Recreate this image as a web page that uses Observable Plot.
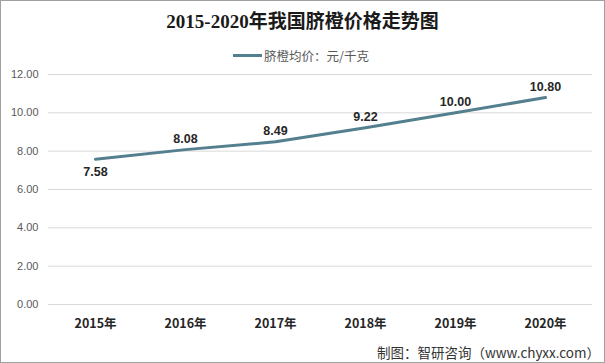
<!DOCTYPE html>
<html>
<head>
<meta charset="utf-8">
<script src="https://cdn.jsdelivr.net/npm/d3@7"></script>
<script src="https://cdn.jsdelivr.net/npm/@observablehq/plot@0.6"></script>
<style>
  html, body { margin: 0; padding: 0; background: #fff; }
  #wrap { position: relative; width: 605px; height: 363px; overflow: hidden; background: #fff; }
  #frame { position: absolute; left: 0; top: 0; width: 605px; height: 363px; box-sizing: border-box; border: 1px solid #a0a0a0; pointer-events: none; }
  #title { position: absolute; left: 0; width: 605px; top: 9px; text-align: center; font-family: "Liberation Serif", "Noto Sans CJK SC", serif; font-weight: bold; font-size: 19px; color: #1a1a1a; line-height: 26px; }
  #legend { position: absolute; left: 233px; top: 46px; height: 18px; display: flex; align-items: center; font-family: "Noto Sans CJK SC", sans-serif; font-size: 12.5px; color: #595959; }
  #legend .sw { width: 29px; height: 3px; background: #537f8e; margin-right: 2px; }
  #caption { position: absolute; right: 5px; top: 342px; font-family: "Noto Sans CJK SC", sans-serif; font-size: 13.5px; color: #333; line-height: 20px; }
  #chart { position: absolute; left: 0; top: 0; }
</style>
</head>
<body>
<div id="wrap">
  <div id="chart"></div>
  <div id="title">2015-2020年我国脐橙价格走势图</div>
  <div id="legend"><div class="sw"></div><span id="legendText"></span></div>
  <div id="caption">制图：智研咨询（www.chyxx.com）</div>
  <div id="frame"></div>
</div>
<script>
const years = ["2015年", "2016年", "2017年", "2018年", "2019年", "2020年"];
const prices = [7.58, 8.08, 8.49, 9.22, 10.00, 10.80];
const yTicks = [0, 2, 4, 6, 8, 10, 12];
const seriesName = "脐橙均价：元/千克";

document.getElementById("legendText").textContent = seriesName;

const data = years.map((y, i) => ({year: y, price: prices[i], first: i === 0}));
const lineColor = "#537f8e";

const chart = Plot.plot({
  width: 605,
  height: 363,
  marginTop: 74,
  marginBottom: 59,
  marginLeft: 48,
  marginRight: 13,
  style: {background: "transparent", overflow: "visible"},
  x: {type: "point", domain: years, padding: 0.5, label: null},
  y: {domain: [0, 12], label: null},
  marks: [
    Plot.ruleY(yTicks, {stroke: "#d9d9d9", strokeWidth: 1}),
    Plot.axisY({ticks: yTicks, tickSize: 0, tickPadding: 10, tickFormat: d => d.toFixed(2),
      fontSize: 11, fill: "#595959", fontFamily: "Liberation Sans, sans-serif", label: null}),
    Plot.axisX({tickSize: 0, tickPadding: 15, fontSize: 12.5, fontWeight: "bold", fill: "#262626",
      fontFamily: "Noto Sans CJK SC, sans-serif", label: null}),
    Plot.line(data, {x: "year", y: "price", stroke: lineColor, strokeWidth: 3}),
    Plot.text(data.filter(d => d.first), {x: "year", y: "price", text: d => d.price.toFixed(2), dy: 13,
      fontSize: 12.5, fontWeight: "bold", fill: "#262626", fontFamily: "Liberation Sans, sans-serif"}),
    Plot.text(data.filter(d => !d.first), {x: "year", y: "price", text: d => d.price.toFixed(2), dy: -11,
      fontSize: 12.5, fontWeight: "bold", fill: "#262626", fontFamily: "Liberation Sans, sans-serif"})
  ]
});
document.getElementById("chart").appendChild(chart);
</script>
</body>
</html>
